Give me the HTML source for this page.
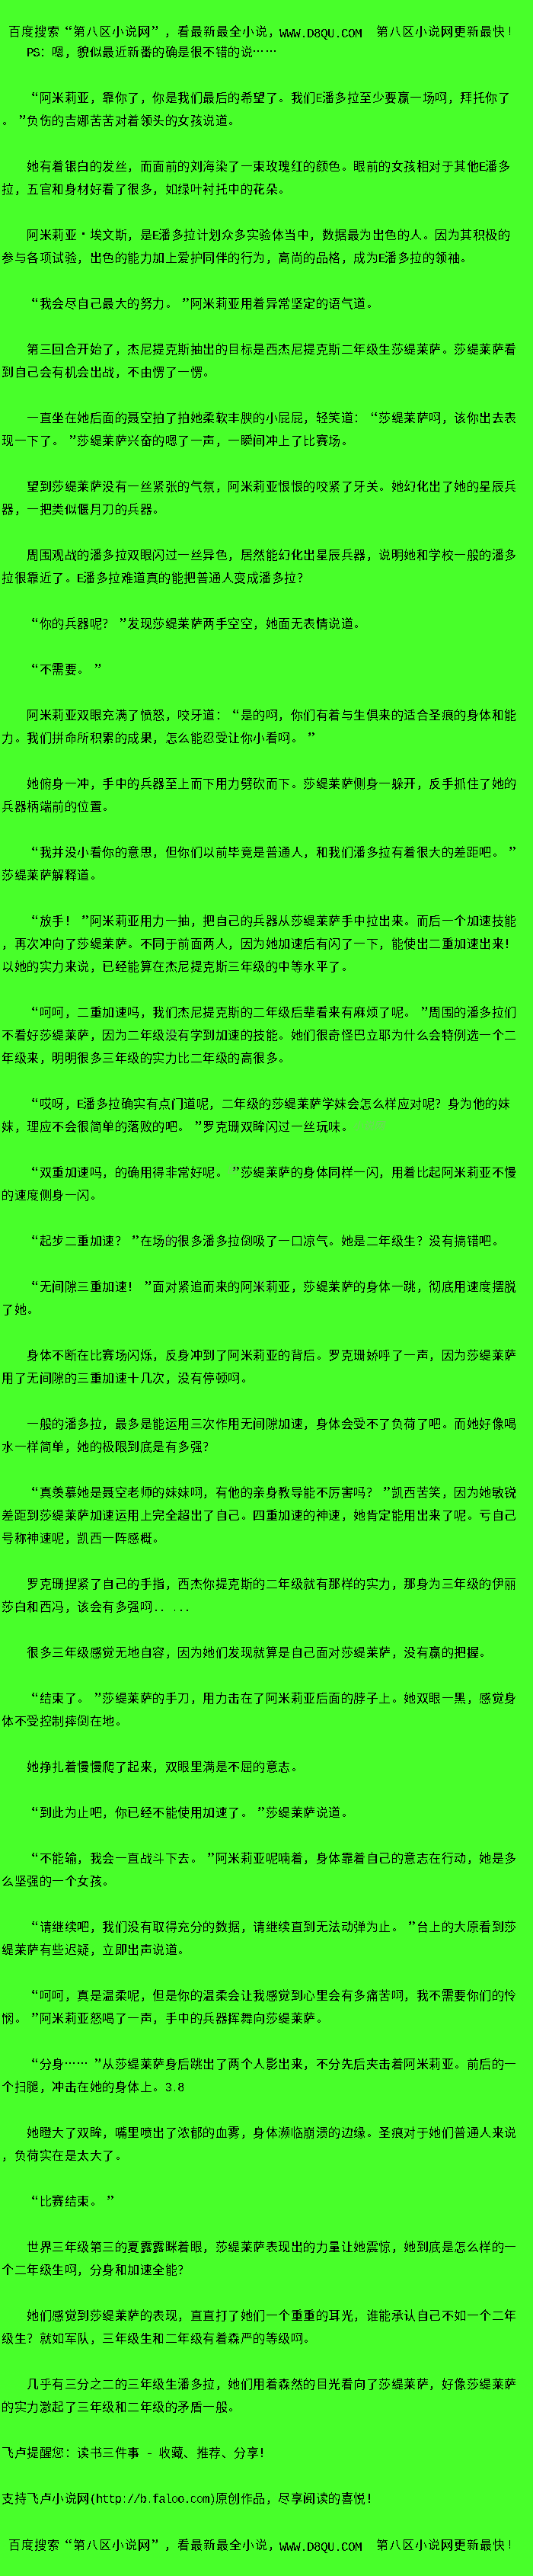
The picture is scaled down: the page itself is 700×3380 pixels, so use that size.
<!DOCTYPE html>
<html lang="zh-CN"><head><meta charset="utf-8"><style>
html,body{margin:0;padding:0;}
body{background:#48ff2a;width:700px;height:3380px;position:relative;overflow:hidden;
font-family:"Liberation Sans",sans-serif;color:#000;}
.l{position:absolute;left:2.0px;height:30px;line-height:30px;font-size:16px;white-space:nowrap;}
.l b,.h b{display:inline-block;width:16.5px;font-weight:normal;letter-spacing:0;box-sizing:border-box;}
.h b{width:17.05px}
b.ql,b.qr{font-family:"Liberation Serif",serif;font-size:22px;line-height:16px;padding-left:6px;position:relative;top:1px;text-align:left;}
b.el{position:relative;height:1px;}
b.el s{position:absolute;width:2px;height:2px;background:#000;top:-7px;}
b.el s:nth-child(1){left:1px} b.el s:nth-child(2){left:6px} b.el s:nth-child(3){left:11px}
b.pd{position:relative;height:1px;} b.pd s{position:absolute;left:2px;top:-3px;width:1px;height:1px;box-shadow:1px 0 #000,2px 0 #000,0 1px #000,0 2px #000,3px 1px #000,3px 2px #000,1px 3px #000,2px 3px #000;}
b.dt{position:relative;height:1px;} b.dt s{position:absolute;width:3px;height:3px;background:#000;left:7px;top:-8px;}
.l u,.h u{display:inline-block;width:16.5px;text-decoration:none;letter-spacing:0;}
.h u{width:17.05px}
.h b.qr{padding-left:0}
.l i{display:inline-block;width:8.25px;font-style:normal;letter-spacing:0;font-family:"Liberation Mono",monospace;font-size:16px;text-align:center;}
#w{position:absolute;left:0;top:0;width:700px;height:3380px;filter:url(#th);}
.wm{position:absolute;font-size:14px;line-height:18px;color:#a0a0a0;opacity:.45;font-style:italic;white-space:nowrap;}
.h{position:absolute;height:30px;line-height:30px;font-size:16px;white-space:nowrap;}
.h i{position:relative;top:2px;display:inline-block;width:9px;font-style:normal;letter-spacing:0;font-family:"Liberation Mono",monospace;font-size:16px;text-align:center;}
</style></head>
<body>
<svg width="0" height="0" style="position:absolute"><filter id="th" x="0" y="0" width="100%" height="100%" color-interpolation-filters="sRGB"><feComponentTransfer><feFuncA type="discrete" tableValues="0 0 0 0 0 0 0 0 0 0 1 1 1 1 1 1 1 1 1 1"/></feComponentTransfer></filter></svg>
<div id="w">
<div class="h" style="left:11px;top:27.0px"><u>百</u><u>度</u><u>搜</u><u>索</u><b class="ql">“</b><u>第</u><u>八</u><u>区</u><u>小</u><u>说</u><u>网</u><b class="qr">”</b><u>，</u><u>看</u><u>最</u><u>新</u><u>最</u><u>全</u><u>小</u><u>说</u><u>，</u></div>
<div class="h" style="left:367px;top:27.0px"><i>W</i><i>W</i><i>W</i><i>.</i><i>D</i><i>8</i><i>Q</i><i>U</i><i>.</i><i>C</i><i>O</i><i>M</i></div>
<div class="h" style="left:494px;top:27.0px"><u>第</u><u>八</u><u>区</u><u>小</u><u>说</u><u>网</u><u>更</u><u>新</u><u>最</u><u>快</u><i style="top:-1px">!</i></div>
<div class="l" style="top:54px"><u>　</u><u>　</u><i>P</i><i>S</i><u>：</u><u>嗯</u><u>，</u><u>貌</u><u>似</u><u>最</u><u>近</u><u>新</u><u>番</u><u>的</u><u>确</u><u>是</u><u>很</u><u>不</u><u>错</u><u>的</u><u>说</u><b class="el"><s></s><s></s><s></s></b><b class="el"><s></s><s></s><s></s></b></div>
<div class="l" style="top:114px"><u>　</u><u>　</u><b class="ql">“</b><u>阿</u><u>米</u><u>莉</u><u>亚</u><u>，</u><u>靠</u><u>你</u><u>了</u><u>，</u><u>你</u><u>是</u><u>我</u><u>们</u><u>最</u><u>后</u><u>的</u><u>希</u><u>望</u><u>了</u><b class="pd"><s></s></b><u>我</u><u>们</u><i>E</i><u>潘</u><u>多</u><u>拉</u><u>至</u><u>少</u><u>要</u><u>赢</u><u>一</u><u>场</u><u>啊</u><u>，</u><u>拜</u><u>托</u><u>你</u><u>了</u></div>
<div class="l" style="top:144px"><b class="pd"><s></s></b><b class="qr">”</b><u>负</u><u>伤</u><u>的</u><u>吉</u><u>娜</u><u>苦</u><u>苦</u><u>对</u><u>着</u><u>领</u><u>头</u><u>的</u><u>女</u><u>孩</u><u>说</u><u>道</u><b class="pd"><s></s></b></div>
<div class="l" style="top:204px"><u>　</u><u>　</u><u>她</u><u>有</u><u>着</u><u>银</u><u>白</u><u>的</u><u>发</u><u>丝</u><u>，</u><u>而</u><u>面</u><u>前</u><u>的</u><u>刘</u><u>海</u><u>染</u><u>了</u><u>一</u><u>束</u><u>玫</u><u>瑰</u><u>红</u><u>的</u><u>颜</u><u>色</u><b class="pd"><s></s></b><u>眼</u><u>前</u><u>的</u><u>女</u><u>孩</u><u>相</u><u>对</u><u>于</u><u>其</u><u>他</u><i>E</i><u>潘</u><u>多</u></div>
<div class="l" style="top:234px"><u>拉</u><u>，</u><u>五</u><u>官</u><u>和</u><u>身</u><u>材</u><u>好</u><u>看</u><u>了</u><u>很</u><u>多</u><u>，</u><u>如</u><u>绿</u><u>叶</u><u>衬</u><u>托</u><u>中</u><u>的</u><u>花</u><u>朵</u><b class="pd"><s></s></b></div>
<div class="l" style="top:294px"><u>　</u><u>　</u><u>阿</u><u>米</u><u>莉</u><u>亚</u><b class="dt"><s></s></b><u>埃</u><u>文</u><u>斯</u><u>，</u><u>是</u><i>E</i><u>潘</u><u>多</u><u>拉</u><u>计</u><u>划</u><u>众</u><u>多</u><u>实</u><u>验</u><u>体</u><u>当</u><u>中</u><u>，</u><u>数</u><u>据</u><u>最</u><u>为</u><u>出</u><u>色</u><u>的</u><u>人</u><b class="pd"><s></s></b><u>因</u><u>为</u><u>其</u><u>积</u><u>极</u><u>的</u></div>
<div class="l" style="top:324px"><u>参</u><u>与</u><u>各</u><u>项</u><u>试</u><u>验</u><u>，</u><u>出</u><u>色</u><u>的</u><u>能</u><u>力</u><u>加</u><u>上</u><u>爱</u><u>护</u><u>同</u><u>伴</u><u>的</u><u>行</u><u>为</u><u>，</u><u>高</u><u>尚</u><u>的</u><u>品</u><u>格</u><u>，</u><u>成</u><u>为</u><i>E</i><u>潘</u><u>多</u><u>拉</u><u>的</u><u>领</u><u>袖</u><b class="pd"><s></s></b></div>
<div class="l" style="top:384px"><u>　</u><u>　</u><b class="ql">“</b><u>我</u><u>会</u><u>尽</u><u>自</u><u>己</u><u>最</u><u>大</u><u>的</u><u>努</u><u>力</u><b class="pd"><s></s></b><b class="qr">”</b><u>阿</u><u>米</u><u>莉</u><u>亚</u><u>用</u><u>着</u><u>异</u><u>常</u><u>坚</u><u>定</u><u>的</u><u>语</u><u>气</u><u>道</u><b class="pd"><s></s></b></div>
<div class="l" style="top:444px"><u>　</u><u>　</u><u>第</u><u>三</u><u>回</u><u>合</u><u>开</u><u>始</u><u>了</u><u>，</u><u>杰</u><u>尼</u><u>提</u><u>克</u><u>斯</u><u>抽</u><u>出</u><u>的</u><u>目</u><u>标</u><u>是</u><u>西</u><u>杰</u><u>尼</u><u>提</u><u>克</u><u>斯</u><u>二</u><u>年</u><u>级</u><u>生</u><u>莎</u><u>缇</u><u>莱</u><u>萨</u><b class="pd"><s></s></b><u>莎</u><u>缇</u><u>莱</u><u>萨</u><u>看</u></div>
<div class="l" style="top:474px"><u>到</u><u>自</u><u>己</u><u>会</u><u>有</u><u>机</u><u>会</u><u>出</u><u>战</u><u>，</u><u>不</u><u>由</u><u>愣</u><u>了</u><u>一</u><u>愣</u><b class="pd"><s></s></b></div>
<div class="l" style="top:534px"><u>　</u><u>　</u><u>一</u><u>直</u><u>坐</u><u>在</u><u>她</u><u>后</u><u>面</u><u>的</u><u>聂</u><u>空</u><u>拍</u><u>了</u><u>拍</u><u>她</u><u>柔</u><u>软</u><u>丰</u><u>腴</u><u>的</u><u>小</u><u>屁</u><u>屁</u><u>，</u><u>轻</u><u>笑</u><u>道</u><u>：</u><b class="ql">“</b><u>莎</u><u>缇</u><u>莱</u><u>萨</u><u>啊</u><u>，</u><u>该</u><u>你</u><u>出</u><u>去</u><u>表</u></div>
<div class="l" style="top:564px"><u>现</u><u>一</u><u>下</u><u>了</u><b class="pd"><s></s></b><b class="qr">”</b><u>莎</u><u>缇</u><u>莱</u><u>萨</u><u>兴</u><u>奋</u><u>的</u><u>嗯</u><u>了</u><u>一</u><u>声</u><u>，</u><u>一</u><u>瞬</u><u>间</u><u>冲</u><u>上</u><u>了</u><u>比</u><u>赛</u><u>场</u><b class="pd"><s></s></b></div>
<div class="l" style="top:624px"><u>　</u><u>　</u><u>望</u><u>到</u><u>莎</u><u>缇</u><u>莱</u><u>萨</u><u>没</u><u>有</u><u>一</u><u>丝</u><u>紧</u><u>张</u><u>的</u><u>气</u><u>氛</u><u>，</u><u>阿</u><u>米</u><u>莉</u><u>亚</u><u>恨</u><u>恨</u><u>的</u><u>咬</u><u>紧</u><u>了</u><u>牙</u><u>关</u><b class="pd"><s></s></b><u>她</u><u>幻</u><u>化</u><u>出</u><u>了</u><u>她</u><u>的</u><u>星</u><u>辰</u><u>兵</u></div>
<div class="l" style="top:654px"><u>器</u><u>，</u><u>一</u><u>把</u><u>类</u><u>似</u><u>偃</u><u>月</u><u>刀</u><u>的</u><u>兵</u><u>器</u><b class="pd"><s></s></b></div>
<div class="l" style="top:714px"><u>　</u><u>　</u><u>周</u><u>围</u><u>观</u><u>战</u><u>的</u><u>潘</u><u>多</u><u>拉</u><u>双</u><u>眼</u><u>闪</u><u>过</u><u>一</u><u>丝</u><u>异</u><u>色</u><u>，</u><u>居</u><u>然</u><u>能</u><u>幻</u><u>化</u><u>出</u><u>星</u><u>辰</u><u>兵</u><u>器</u><u>，</u><u>说</u><u>明</u><u>她</u><u>和</u><u>学</u><u>校</u><u>一</u><u>般</u><u>的</u><u>潘</u><u>多</u></div>
<div class="l" style="top:744px"><u>拉</u><u>很</u><u>靠</u><u>近</u><u>了</u><b class="pd"><s></s></b><i>E</i><u>潘</u><u>多</u><u>拉</u><u>难</u><u>道</u><u>真</u><u>的</u><u>能</u><u>把</u><u>普</u><u>通</u><u>人</u><u>变</u><u>成</u><u>潘</u><u>多</u><u>拉</u><u>？</u></div>
<div class="l" style="top:804px"><u>　</u><u>　</u><b class="ql">“</b><u>你</u><u>的</u><u>兵</u><u>器</u><u>呢</u><u>？</u><b class="qr">”</b><u>发</u><u>现</u><u>莎</u><u>缇</u><u>莱</u><u>萨</u><u>两</u><u>手</u><u>空</u><u>空</u><u>，</u><u>她</u><u>面</u><u>无</u><u>表</u><u>情</u><u>说</u><u>道</u><b class="pd"><s></s></b></div>
<div class="l" style="top:864px"><u>　</u><u>　</u><b class="ql">“</b><u>不</u><u>需</u><u>要</u><b class="pd"><s></s></b><b class="qr">”</b></div>
<div class="l" style="top:924px"><u>　</u><u>　</u><u>阿</u><u>米</u><u>莉</u><u>亚</u><u>双</u><u>眼</u><u>充</u><u>满</u><u>了</u><u>愤</u><u>怒</u><u>，</u><u>咬</u><u>牙</u><u>道</u><u>：</u><b class="ql">“</b><u>是</u><u>的</u><u>啊</u><u>，</u><u>你</u><u>们</u><u>有</u><u>着</u><u>与</u><u>生</u><u>俱</u><u>来</u><u>的</u><u>适</u><u>合</u><u>圣</u><u>痕</u><u>的</u><u>身</u><u>体</u><u>和</u><u>能</u></div>
<div class="l" style="top:954px"><u>力</u><b class="pd"><s></s></b><u>我</u><u>们</u><u>拼</u><u>命</u><u>所</u><u>积</u><u>累</u><u>的</u><u>成</u><u>果</u><u>，</u><u>怎</u><u>么</u><u>能</u><u>忍</u><u>受</u><u>让</u><u>你</u><u>小</u><u>看</u><u>啊</u><b class="pd"><s></s></b><b class="qr">”</b></div>
<div class="l" style="top:1014px"><u>　</u><u>　</u><u>她</u><u>俯</u><u>身</u><u>一</u><u>冲</u><u>，</u><u>手</u><u>中</u><u>的</u><u>兵</u><u>器</u><u>至</u><u>上</u><u>而</u><u>下</u><u>用</u><u>力</u><u>劈</u><u>砍</u><u>而</u><u>下</u><b class="pd"><s></s></b><u>莎</u><u>缇</u><u>莱</u><u>萨</u><u>侧</u><u>身</u><u>一</u><u>躲</u><u>开</u><u>，</u><u>反</u><u>手</u><u>抓</u><u>住</u><u>了</u><u>她</u><u>的</u></div>
<div class="l" style="top:1044px"><u>兵</u><u>器</u><u>柄</u><u>端</u><u>前</u><u>的</u><u>位</u><u>置</u><b class="pd"><s></s></b></div>
<div class="l" style="top:1104px"><u>　</u><u>　</u><b class="ql">“</b><u>我</u><u>并</u><u>没</u><u>小</u><u>看</u><u>你</u><u>的</u><u>意</u><u>思</u><u>，</u><u>但</u><u>你</u><u>们</u><u>以</u><u>前</u><u>毕</u><u>竟</u><u>是</u><u>普</u><u>通</u><u>人</u><u>，</u><u>和</u><u>我</u><u>们</u><u>潘</u><u>多</u><u>拉</u><u>有</u><u>着</u><u>很</u><u>大</u><u>的</u><u>差</u><u>距</u><u>吧</u><b class="pd"><s></s></b><b class="qr">”</b></div>
<div class="l" style="top:1134px"><u>莎</u><u>缇</u><u>莱</u><u>萨</u><u>解</u><u>释</u><u>道</u><b class="pd"><s></s></b></div>
<div class="l" style="top:1194px"><u>　</u><u>　</u><b class="ql">“</b><u>放</u><u>手</u><u>！</u><b class="qr">”</b><u>阿</u><u>米</u><u>莉</u><u>亚</u><u>用</u><u>力</u><u>一</u><u>抽</u><u>，</u><u>把</u><u>自</u><u>己</u><u>的</u><u>兵</u><u>器</u><u>从</u><u>莎</u><u>缇</u><u>莱</u><u>萨</u><u>手</u><u>中</u><u>拉</u><u>出</u><u>来</u><b class="pd"><s></s></b><u>而</u><u>后</u><u>一</u><u>个</u><u>加</u><u>速</u><u>技</u><u>能</u></div>
<div class="l" style="top:1224px"><u>，</u><u>再</u><u>次</u><u>冲</u><u>向</u><u>了</u><u>莎</u><u>缇</u><u>莱</u><u>萨</u><b class="pd"><s></s></b><u>不</u><u>同</u><u>于</u><u>前</u><u>面</u><u>两</u><u>人</u><u>，</u><u>因</u><u>为</u><u>她</u><u>加</u><u>速</u><u>后</u><u>有</u><u>闪</u><u>了</u><u>一</u><u>下</u><u>，</u><u>能</u><u>使</u><u>出</u><u>二</u><u>重</u><u>加</u><u>速</u><u>出</u><u>来</u><u>！</u></div>
<div class="l" style="top:1254px"><u>以</u><u>她</u><u>的</u><u>实</u><u>力</u><u>来</u><u>说</u><u>，</u><u>已</u><u>经</u><u>能</u><u>算</u><u>在</u><u>杰</u><u>尼</u><u>提</u><u>克</u><u>斯</u><u>三</u><u>年</u><u>级</u><u>的</u><u>中</u><u>等</u><u>水</u><u>平</u><u>了</u><b class="pd"><s></s></b></div>
<div class="l" style="top:1314px"><u>　</u><u>　</u><b class="ql">“</b><u>呵</u><u>呵</u><u>，</u><u>二</u><u>重</u><u>加</u><u>速</u><u>吗</u><u>，</u><u>我</u><u>们</u><u>杰</u><u>尼</u><u>提</u><u>克</u><u>斯</u><u>的</u><u>二</u><u>年</u><u>级</u><u>后</u><u>辈</u><u>看</u><u>来</u><u>有</u><u>麻</u><u>烦</u><u>了</u><u>呢</u><b class="pd"><s></s></b><b class="qr">”</b><u>周</u><u>围</u><u>的</u><u>潘</u><u>多</u><u>拉</u><u>们</u></div>
<div class="l" style="top:1344px"><u>不</u><u>看</u><u>好</u><u>莎</u><u>缇</u><u>莱</u><u>萨</u><u>，</u><u>因</u><u>为</u><u>二</u><u>年</u><u>级</u><u>没</u><u>有</u><u>学</u><u>到</u><u>加</u><u>速</u><u>的</u><u>技</u><u>能</u><b class="pd"><s></s></b><u>她</u><u>们</u><u>很</u><u>奇</u><u>怪</u><u>巴</u><u>立</u><u>耶</u><u>为</u><u>什</u><u>么</u><u>会</u><u>特</u><u>例</u><u>选</u><u>一</u><u>个</u><u>二</u></div>
<div class="l" style="top:1374px"><u>年</u><u>级</u><u>来</u><u>，</u><u>明</u><u>明</u><u>很</u><u>多</u><u>三</u><u>年</u><u>级</u><u>的</u><u>实</u><u>力</u><u>比</u><u>二</u><u>年</u><u>级</u><u>的</u><u>高</u><u>很</u><u>多</u><b class="pd"><s></s></b></div>
<div class="l" style="top:1434px"><u>　</u><u>　</u><b class="ql">“</b><u>哎</u><u>呀</u><u>，</u><i>E</i><u>潘</u><u>多</u><u>拉</u><u>确</u><u>实</u><u>有</u><u>点</u><u>门</u><u>道</u><u>呢</u><u>，</u><u>二</u><u>年</u><u>级</u><u>的</u><u>莎</u><u>缇</u><u>莱</u><u>萨</u><u>学</u><u>妹</u><u>会</u><u>怎</u><u>么</u><u>样</u><u>应</u><u>对</u><u>呢</u><u>？</u><u>身</u><u>为</u><u>他</u><u>的</u><u>妹</u></div>
<div class="l" style="top:1464px"><u>妹</u><u>，</u><u>理</u><u>应</u><u>不</u><u>会</u><u>很</u><u>简</u><u>单</u><u>的</u><u>落</u><u>败</u><u>的</u><u>吧</u><b class="pd"><s></s></b><b class="qr">”</b><u>罗</u><u>克</u><u>珊</u><u>双</u><u>眸</u><u>闪</u><u>过</u><u>一</u><u>丝</u><u>玩</u><u>味</u><b class="pd"><s></s></b></div>
<div class="l" style="top:1524px"><u>　</u><u>　</u><b class="ql">“</b><u>双</u><u>重</u><u>加</u><u>速</u><u>吗</u><u>，</u><u>的</u><u>确</u><u>用</u><u>得</u><u>非</u><u>常</u><u>好</u><u>呢</u><b class="pd"><s></s></b><b class="qr">”</b><u>莎</u><u>缇</u><u>莱</u><u>萨</u><u>的</u><u>身</u><u>体</u><u>同</u><u>样</u><u>一</u><u>闪</u><u>，</u><u>用</u><u>着</u><u>比</u><u>起</u><u>阿</u><u>米</u><u>莉</u><u>亚</u><u>不</u><u>慢</u></div>
<div class="l" style="top:1554px"><u>的</u><u>速</u><u>度</u><u>侧</u><u>身</u><u>一</u><u>闪</u><b class="pd"><s></s></b></div>
<div class="l" style="top:1614px"><u>　</u><u>　</u><b class="ql">“</b><u>起</u><u>步</u><u>二</u><u>重</u><u>加</u><u>速</u><u>？</u><b class="qr">”</b><u>在</u><u>场</u><u>的</u><u>很</u><u>多</u><u>潘</u><u>多</u><u>拉</u><u>倒</u><u>吸</u><u>了</u><u>一</u><u>口</u><u>凉</u><u>气</u><b class="pd"><s></s></b><u>她</u><u>是</u><u>二</u><u>年</u><u>级</u><u>生</u><u>？</u><u>没</u><u>有</u><u>搞</u><u>错</u><u>吧</u><b class="pd"><s></s></b></div>
<div class="l" style="top:1674px"><u>　</u><u>　</u><b class="ql">“</b><u>无</u><u>间</u><u>隙</u><u>三</u><u>重</u><u>加</u><u>速</u><u>！</u><b class="qr">”</b><u>面</u><u>对</u><u>紧</u><u>追</u><u>而</u><u>来</u><u>的</u><u>阿</u><u>米</u><u>莉</u><u>亚</u><u>，</u><u>莎</u><u>缇</u><u>莱</u><u>萨</u><u>的</u><u>身</u><u>体</u><u>一</u><u>跳</u><u>，</u><u>彻</u><u>底</u><u>用</u><u>速</u><u>度</u><u>摆</u><u>脱</u></div>
<div class="l" style="top:1704px"><u>了</u><u>她</u><b class="pd"><s></s></b></div>
<div class="l" style="top:1764px"><u>　</u><u>　</u><u>身</u><u>体</u><u>不</u><u>断</u><u>在</u><u>比</u><u>赛</u><u>场</u><u>闪</u><u>烁</u><u>，</u><u>反</u><u>身</u><u>冲</u><u>到</u><u>了</u><u>阿</u><u>米</u><u>莉</u><u>亚</u><u>的</u><u>背</u><u>后</u><b class="pd"><s></s></b><u>罗</u><u>克</u><u>珊</u><u>娇</u><u>呼</u><u>了</u><u>一</u><u>声</u><u>，</u><u>因</u><u>为</u><u>莎</u><u>缇</u><u>莱</u><u>萨</u></div>
<div class="l" style="top:1794px"><u>用</u><u>了</u><u>无</u><u>间</u><u>隙</u><u>的</u><u>三</u><u>重</u><u>加</u><u>速</u><u>十</u><u>几</u><u>次</u><u>，</u><u>没</u><u>有</u><u>停</u><u>顿</u><u>啊</u><b class="pd"><s></s></b></div>
<div class="l" style="top:1854px"><u>　</u><u>　</u><u>一</u><u>般</u><u>的</u><u>潘</u><u>多</u><u>拉</u><u>，</u><u>最</u><u>多</u><u>是</u><u>能</u><u>运</u><u>用</u><u>三</u><u>次</u><u>作</u><u>用</u><u>无</u><u>间</u><u>隙</u><u>加</u><u>速</u><u>，</u><u>身</u><u>体</u><u>会</u><u>受</u><u>不</u><u>了</u><u>负</u><u>荷</u><u>了</u><u>吧</u><b class="pd"><s></s></b><u>而</u><u>她</u><u>好</u><u>像</u><u>喝</u></div>
<div class="l" style="top:1884px"><u>水</u><u>一</u><u>样</u><u>简</u><u>单</u><u>，</u><u>她</u><u>的</u><u>极</u><u>限</u><u>到</u><u>底</u><u>是</u><u>有</u><u>多</u><u>强</u><u>？</u></div>
<div class="l" style="top:1944px"><u>　</u><u>　</u><b class="ql">“</b><u>真</u><u>羡</u><u>慕</u><u>她</u><u>是</u><u>聂</u><u>空</u><u>老</u><u>师</u><u>的</u><u>妹</u><u>妹</u><u>啊</u><u>，</u><u>有</u><u>他</u><u>的</u><u>亲</u><u>身</u><u>教</u><u>导</u><u>能</u><u>不</u><u>厉</u><u>害</u><u>吗</u><u>？</u><b class="qr">”</b><u>凯</u><u>西</u><u>苦</u><u>笑</u><u>，</u><u>因</u><u>为</u><u>她</u><u>敏</u><u>锐</u></div>
<div class="l" style="top:1974px"><u>差</u><u>距</u><u>到</u><u>莎</u><u>缇</u><u>莱</u><u>萨</u><u>加</u><u>速</u><u>运</u><u>用</u><u>上</u><u>完</u><u>全</u><u>超</u><u>出</u><u>了</u><u>自</u><u>己</u><b class="pd"><s></s></b><u>四</u><u>重</u><u>加</u><u>速</u><u>的</u><u>神</u><u>速</u><u>，</u><u>她</u><u>肯</u><u>定</u><u>能</u><u>用</u><u>出</u><u>来</u><u>了</u><u>呢</u><b class="pd"><s></s></b><u>亏</u><u>自</u><u>己</u></div>
<div class="l" style="top:2004px"><u>号</u><u>称</u><u>神</u><u>速</u><u>呢</u><u>，</u><u>凯</u><u>西</u><u>一</u><u>阵</u><u>感</u><u>概</u><b class="pd"><s></s></b></div>
<div class="l" style="top:2064px"><u>　</u><u>　</u><u>罗</u><u>克</u><u>珊</u><u>捏</u><u>紧</u><u>了</u><u>自</u><u>己</u><u>的</u><u>手</u><u>指</u><u>，</u><u>西</u><u>杰</u><u>你</u><u>提</u><u>克</u><u>斯</u><u>的</u><u>二</u><u>年</u><u>级</u><u>就</u><u>有</u><u>那</u><u>样</u><u>的</u><u>实</u><u>力</u><u>，</u><u>那</u><u>身</u><u>为</u><u>三</u><u>年</u><u>级</u><u>的</u><u>伊</u><u>丽</u></div>
<div class="l" style="top:2094px"><u>莎</u><u>白</u><u>和</u><u>西</u><u>冯</u><u>，</u><u>该</u><u>会</u><u>有</u><u>多</u><u>强</u><u>啊</u><i>.</i><i>.</i><i>&nbsp;</i><i>.</i><i>.</i><i>.</i></div>
<div class="l" style="top:2154px"><u>　</u><u>　</u><u>很</u><u>多</u><u>三</u><u>年</u><u>级</u><u>感</u><u>觉</u><u>无</u><u>地</u><u>自</u><u>容</u><u>，</u><u>因</u><u>为</u><u>她</u><u>们</u><u>发</u><u>现</u><u>就</u><u>算</u><u>是</u><u>自</u><u>己</u><u>面</u><u>对</u><u>莎</u><u>缇</u><u>莱</u><u>萨</u><u>，</u><u>没</u><u>有</u><u>赢</u><u>的</u><u>把</u><u>握</u><b class="pd"><s></s></b></div>
<div class="l" style="top:2214px"><u>　</u><u>　</u><b class="ql">“</b><u>结</u><u>束</u><u>了</u><b class="pd"><s></s></b><b class="qr">”</b><u>莎</u><u>缇</u><u>莱</u><u>萨</u><u>的</u><u>手</u><u>刀</u><u>，</u><u>用</u><u>力</u><u>击</u><u>在</u><u>了</u><u>阿</u><u>米</u><u>莉</u><u>亚</u><u>后</u><u>面</u><u>的</u><u>脖</u><u>子</u><u>上</u><b class="pd"><s></s></b><u>她</u><u>双</u><u>眼</u><u>一</u><u>黑</u><u>，</u><u>感</u><u>觉</u><u>身</u></div>
<div class="l" style="top:2244px"><u>体</u><u>不</u><u>受</u><u>控</u><u>制</u><u>摔</u><u>倒</u><u>在</u><u>地</u><b class="pd"><s></s></b></div>
<div class="l" style="top:2304px"><u>　</u><u>　</u><u>她</u><u>挣</u><u>扎</u><u>着</u><u>慢</u><u>慢</u><u>爬</u><u>了</u><u>起</u><u>来</u><u>，</u><u>双</u><u>眼</u><u>里</u><u>满</u><u>是</u><u>不</u><u>屈</u><u>的</u><u>意</u><u>志</u><b class="pd"><s></s></b></div>
<div class="l" style="top:2364px"><u>　</u><u>　</u><b class="ql">“</b><u>到</u><u>此</u><u>为</u><u>止</u><u>吧</u><u>，</u><u>你</u><u>已</u><u>经</u><u>不</u><u>能</u><u>使</u><u>用</u><u>加</u><u>速</u><u>了</u><b class="pd"><s></s></b><b class="qr">”</b><u>莎</u><u>缇</u><u>莱</u><u>萨</u><u>说</u><u>道</u><b class="pd"><s></s></b></div>
<div class="l" style="top:2424px"><u>　</u><u>　</u><b class="ql">“</b><u>不</u><u>能</u><u>输</u><u>，</u><u>我</u><u>会</u><u>一</u><u>直</u><u>战</u><u>斗</u><u>下</u><u>去</u><b class="pd"><s></s></b><b class="qr">”</b><u>阿</u><u>米</u><u>莉</u><u>亚</u><u>呢</u><u>喃</u><u>着</u><u>，</u><u>身</u><u>体</u><u>靠</u><u>着</u><u>自</u><u>己</u><u>的</u><u>意</u><u>志</u><u>在</u><u>行</u><u>动</u><u>，</u><u>她</u><u>是</u><u>多</u></div>
<div class="l" style="top:2454px"><u>么</u><u>坚</u><u>强</u><u>的</u><u>一</u><u>个</u><u>女</u><u>孩</u><b class="pd"><s></s></b></div>
<div class="l" style="top:2514px"><u>　</u><u>　</u><b class="ql">“</b><u>请</u><u>继</u><u>续</u><u>吧</u><u>，</u><u>我</u><u>们</u><u>没</u><u>有</u><u>取</u><u>得</u><u>充</u><u>分</u><u>的</u><u>数</u><u>据</u><u>，</u><u>请</u><u>继</u><u>续</u><u>直</u><u>到</u><u>无</u><u>法</u><u>动</u><u>弹</u><u>为</u><u>止</u><b class="pd"><s></s></b><b class="qr">”</b><u>台</u><u>上</u><u>的</u><u>大</u><u>原</u><u>看</u><u>到</u><u>莎</u></div>
<div class="l" style="top:2544px"><u>缇</u><u>莱</u><u>萨</u><u>有</u><u>些</u><u>迟</u><u>疑</u><u>，</u><u>立</u><u>即</u><u>出</u><u>声</u><u>说</u><u>道</u><b class="pd"><s></s></b></div>
<div class="l" style="top:2604px"><u>　</u><u>　</u><b class="ql">“</b><u>呵</u><u>呵</u><u>，</u><u>真</u><u>是</u><u>温</u><u>柔</u><u>呢</u><u>，</u><u>但</u><u>是</u><u>你</u><u>的</u><u>温</u><u>柔</u><u>会</u><u>让</u><u>我</u><u>感</u><u>觉</u><u>到</u><u>心</u><u>里</u><u>会</u><u>有</u><u>多</u><u>痛</u><u>苦</u><u>啊</u><u>，</u><u>我</u><u>不</u><u>需</u><u>要</u><u>你</u><u>们</u><u>的</u><u>怜</u></div>
<div class="l" style="top:2634px"><u>悯</u><b class="pd"><s></s></b><b class="qr">”</b><u>阿</u><u>米</u><u>莉</u><u>亚</u><u>怒</u><u>喝</u><u>了</u><u>一</u><u>声</u><u>，</u><u>手</u><u>中</u><u>的</u><u>兵</u><u>器</u><u>挥</u><u>舞</u><u>向</u><u>莎</u><u>缇</u><u>莱</u><u>萨</u><b class="pd"><s></s></b></div>
<div class="l" style="top:2694px"><u>　</u><u>　</u><b class="ql">“</b><u>分</u><u>身</u><b class="el"><s></s><s></s><s></s></b><b class="el"><s></s><s></s><s></s></b><b class="qr">”</b><u>从</u><u>莎</u><u>缇</u><u>莱</u><u>萨</u><u>身</u><u>后</u><u>跳</u><u>出</u><u>了</u><u>两</u><u>个</u><u>人</u><u>影</u><u>出</u><u>来</u><u>，</u><u>不</u><u>分</u><u>先</u><u>后</u><u>夹</u><u>击</u><u>着</u><u>阿</u><u>米</u><u>莉</u><u>亚</u><b class="pd"><s></s></b><u>前</u><u>后</u><u>的</u><u>一</u></div>
<div class="l" style="top:2724px"><u>个</u><u>扫</u><u>腿</u><u>，</u><u>冲</u><u>击</u><u>在</u><u>她</u><u>的</u><u>身</u><u>体</u><u>上</u><b class="pd"><s></s></b><i>3</i><i>.</i><i>8</i></div>
<div class="l" style="top:2784px"><u>　</u><u>　</u><u>她</u><u>瞪</u><u>大</u><u>了</u><u>双</u><u>眸</u><u>，</u><u>嘴</u><u>里</u><u>喷</u><u>出</u><u>了</u><u>浓</u><u>郁</u><u>的</u><u>血</u><u>雾</u><u>，</u><u>身</u><u>体</u><u>濒</u><u>临</u><u>崩</u><u>溃</u><u>的</u><u>边</u><u>缘</u><b class="pd"><s></s></b><u>圣</u><u>痕</u><u>对</u><u>于</u><u>她</u><u>们</u><u>普</u><u>通</u><u>人</u><u>来</u><u>说</u></div>
<div class="l" style="top:2814px"><u>，</u><u>负</u><u>荷</u><u>实</u><u>在</u><u>是</u><u>太</u><u>大</u><u>了</u><b class="pd"><s></s></b></div>
<div class="l" style="top:2874px"><u>　</u><u>　</u><b class="ql">“</b><u>比</u><u>赛</u><u>结</u><u>束</u><b class="pd"><s></s></b><b class="qr">”</b></div>
<div class="l" style="top:2934px"><u>　</u><u>　</u><u>世</u><u>界</u><u>三</u><u>年</u><u>级</u><u>第</u><u>三</u><u>的</u><u>夏</u><u>露</u><u>露</u><u>眯</u><u>着</u><u>眼</u><u>，</u><u>莎</u><u>缇</u><u>莱</u><u>萨</u><u>表</u><u>现</u><u>出</u><u>的</u><u>力</u><u>量</u><u>让</u><u>她</u><u>震</u><u>惊</u><u>，</u><u>她</u><u>到</u><u>底</u><u>是</u><u>怎</u><u>么</u><u>样</u><u>的</u><u>一</u></div>
<div class="l" style="top:2964px"><u>个</u><u>二</u><u>年</u><u>级</u><u>生</u><u>啊</u><u>，</u><u>分</u><u>身</u><u>和</u><u>加</u><u>速</u><u>全</u><u>能</u><u>？</u></div>
<div class="l" style="top:3024px"><u>　</u><u>　</u><u>她</u><u>们</u><u>感</u><u>觉</u><u>到</u><u>莎</u><u>缇</u><u>莱</u><u>萨</u><u>的</u><u>表</u><u>现</u><u>，</u><u>直</u><u>直</u><u>打</u><u>了</u><u>她</u><u>们</u><u>一</u><u>个</u><u>重</u><u>重</u><u>的</u><u>耳</u><u>光</u><u>，</u><u>谁</u><u>能</u><u>承</u><u>认</u><u>自</u><u>己</u><u>不</u><u>如</u><u>一</u><u>个</u><u>二</u><u>年</u></div>
<div class="l" style="top:3054px"><u>级</u><u>生</u><u>？</u><u>就</u><u>如</u><u>军</u><u>队</u><u>，</u><u>三</u><u>年</u><u>级</u><u>生</u><u>和</u><u>二</u><u>年</u><u>级</u><u>有</u><u>着</u><u>森</u><u>严</u><u>的</u><u>等</u><u>级</u><u>啊</u><b class="pd"><s></s></b></div>
<div class="l" style="top:3114px"><u>　</u><u>　</u><u>几</u><u>乎</u><u>有</u><u>三</u><u>分</u><u>之</u><u>二</u><u>的</u><u>三</u><u>年</u><u>级</u><u>生</u><u>潘</u><u>多</u><u>拉</u><u>，</u><u>她</u><u>们</u><u>用</u><u>着</u><u>森</u><u>然</u><u>的</u><u>目</u><u>光</u><u>看</u><u>向</u><u>了</u><u>莎</u><u>缇</u><u>莱</u><u>萨</u><u>，</u><u>好</u><u>像</u><u>莎</u><u>缇</u><u>莱</u><u>萨</u></div>
<div class="l" style="top:3144px"><u>的</u><u>实</u><u>力</u><u>激</u><u>起</u><u>了</u><u>三</u><u>年</u><u>级</u><u>和</u><u>二</u><u>年</u><u>级</u><u>的</u><u>矛</u><u>盾</u><u>一</u><u>般</u><b class="pd"><s></s></b></div>
<div class="l" style="top:3204px"><u>飞</u><u>卢</u><u>提</u><u>醒</u><u>您</u><u>：</u><u>读</u><u>书</u><u>三</u><u>件</u><u>事</u><i>&nbsp;</i><i>-</i><i>&nbsp;</i><u>收</u><u>藏</u><u>、</u><u>推</u><u>荐</u><u>、</u><u>分</u><u>享</u><u>！</u></div>
<div class="l" style="top:3264px"><u>支</u><u>持</u><u>飞</u><u>卢</u><u>小</u><u>说</u><u>网</u><i>(</i><i>h</i><i>t</i><i>t</i><i>p</i><i>:</i><i>/</i><i>/</i><i>b</i><i>.</i><i>f</i><i>a</i><i>l</i><i>o</i><i>o</i><i>.</i><i>c</i><i>o</i><i>m</i><i>)</i><u>原</u><u>创</u><u>作</u><u>品</u><u>，</u><u>尽</u><u>享</u><u>阅</u><u>读</u><u>的</u><u>喜</u><u>悦</u><u>！</u></div>
<div class="h" style="left:11px;top:3325.0px"><u>百</u><u>度</u><u>搜</u><u>索</u><b class="ql">“</b><u>第</u><u>八</u><u>区</u><u>小</u><u>说</u><u>网</u><b class="qr">”</b><u>，</u><u>看</u><u>最</u><u>新</u><u>最</u><u>全</u><u>小</u><u>说</u><u>，</u></div>
<div class="h" style="left:367px;top:3325.0px"><i>W</i><i>W</i><i>W</i><i>.</i><i>D</i><i>8</i><i>Q</i><i>U</i><i>.</i><i>C</i><i>O</i><i>M</i></div>
<div class="h" style="left:494px;top:3325.0px"><u>第</u><u>八</u><u>区</u><u>小</u><u>说</u><u>网</u><u>更</u><u>新</u><u>最</u><u>快</u><i style="top:-1px">!</i></div>
</div>
<div class="wm" style="left:216px;top:1348px">第八</div>
<div class="wm" style="left:463px;top:1468px">小说网</div>
<div class="wm" style="left:298px;top:1525px">区</div>
<div class="wm" style="left:213px;top:1618px">第八</div>
<div class="wm" style="left:333px;top:1678px">区小</div>
</body></html>
